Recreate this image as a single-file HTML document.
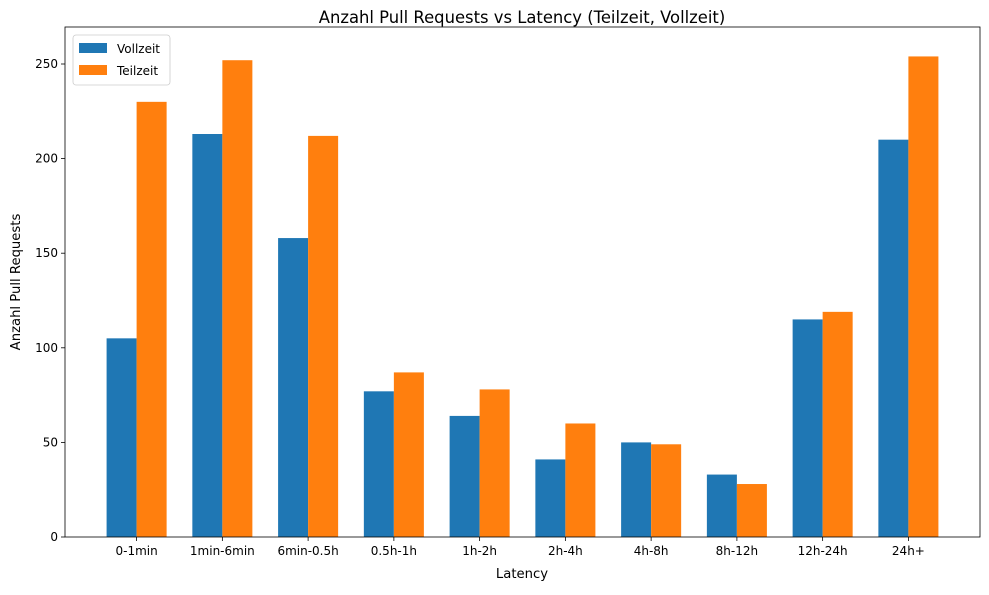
<!DOCTYPE html>
<html><head><meta charset="utf-8">
<style>
body{margin:0;background:#fff;font-family:"Liberation Sans","DejaVu Sans",sans-serif;}
svg text{font-family:"DejaVu Sans","Liberation Sans",sans-serif;}
</style></head>
<body>
<svg id="chart" width="989" height="590" xmlns="http://www.w3.org/2000/svg">
<rect width="989" height="590" fill="#fff"/>
<text x="522" y="23" font-size="16.4" text-anchor="middle">Anzahl Pull Requests vs Latency (Teilzeit, Vollzeit)</text>
<g id="plot"></g>
<rect x="65" y="27" width="915" height="510" fill="none" stroke="#000" stroke-width="0.8"/>
<text x="522" y="578" font-size="13.2" text-anchor="middle">Latency</text>
<text x="20" y="282" font-size="13.2" text-anchor="middle" transform="rotate(-90 20 282)">Anzahl Pull Requests</text>
<g>
<rect x="73" y="35" width="97" height="50" rx="3" fill="#fff" stroke="#ccc" stroke-width="0.8"/>
<rect x="79" y="43" width="28" height="10" fill="#1f77b4"/>
<text x="117" y="53" font-size="12">Vollzeit</text>
<rect x="79" y="65" width="28" height="10" fill="#ff7f0e"/>
<text x="117" y="75" font-size="12">Teilzeit</text>
</g>
</svg>
<script>
const categories=["0-1min","1min-6min","6min-0.5h","0.5h-1h","1h-2h","2h-4h","4h-8h","8h-12h","12h-24h","24h+"];
const vollzeit=[105,213,158,77,64,41,50,33,115,210];
const teilzeit=[230,252,212,87,78,60,49,28,119,254];
const yTicks=[0,50,100,150,200,250];
const NS="http://www.w3.org/2000/svg";
const g=document.getElementById("plot");
const L=65,R=980,T=27,B=537;
const xmin=-0.835,xmax=categories.length-1+0.835;
const xs=v=>L+(v-xmin)/(xmax-xmin)*(R-L);
const ys=v=>B-v*(473/250);
const bw=0.35;
function mk(tag,attrs){const e=document.createElementNS(NS,tag);for(const k in attrs)e.setAttribute(k,attrs[k]);g.appendChild(e);return e;}
yTicks.forEach(t=>{
 const y=ys(t);
 const l=mk("line",{x1:L-4,x2:L,y1:y,y2:y,stroke:"#000","stroke-width":0.8});
 
 
 const tx=mk("text",{x:L-7,y:y+4,"font-size":12,"text-anchor":"end"});
 tx.textContent=t;
 
 
});
categories.forEach((c,i)=>{
 const x0=xs(i-bw),x1=xs(i),x2=xs(i+bw);
 const b1=mk("rect",{x:x0,y:ys(vollzeit[i]),width:x1-x0,height:B-ys(vollzeit[i]),fill:"#1f77b4"});
 
 
 const b2=mk("rect",{x:x1,y:ys(teilzeit[i]),width:x2-x1,height:B-ys(teilzeit[i]),fill:"#ff7f0e"});
 
 
 const tk=mk("line",{x1:x1,x2:x1,y1:B,y2:B+4,stroke:"#000","stroke-width":0.8});
 
 
 const tl=mk("text",{x:x1,y:B+18,"font-size":12,"text-anchor":"middle"});
 tl.textContent=c;
 
 
});
</script>
</body></html>
